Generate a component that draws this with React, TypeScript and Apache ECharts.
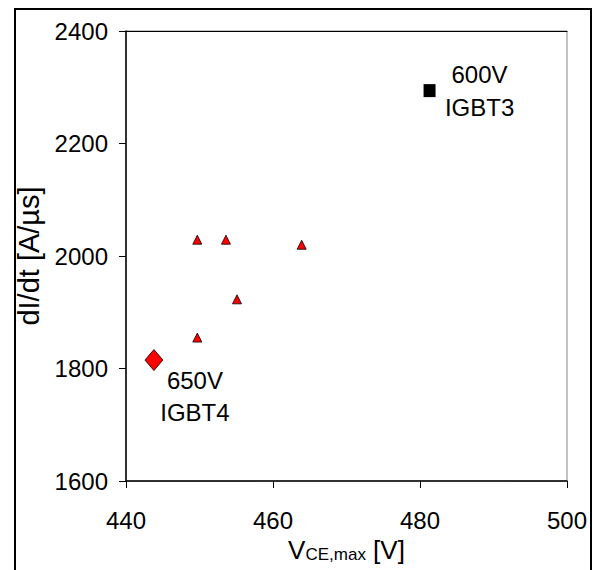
import React, { useEffect, useRef } from "react";
import * as echarts from "echarts";

const xTicks = [440, 460, 480, 500];
const yTicks = [1600, 1800, 2000, 2200, 2400];
const igbt3Points: [number, number][] = [[481.3, 2294]];
const igbt4Points: [number, number][] = [[443.8, 1815]];
const trianglePoints: [number, number][] = [
  [449.7, 2029],
  [453.6, 2029],
  [463.9, 2020],
  [455.1, 1923],
  [449.7, 1855],
];
const igbt3Label = "600V\nIGBT3";
const igbt4Label = "650V\nIGBT4";

const FONT = "'Liberation Sans', Arial, sans-serif";

export default function App() {
  const ref = useRef<HTMLDivElement>(null);
  useEffect(() => {
    if (!ref.current) return;
    const chart = echarts.init(ref.current, null, { renderer: "svg" });
    const axisLabel = {
      color: "#000",
      fontSize: 24,
      fontFamily: FONT,
      formatter: (v: number) => String(v),
    };
    const annotation = {
      show: true,
      position: "inside",
      align: "center",
      verticalAlign: "middle",
      color: "#000",
      textBorderWidth: 0,
      fontSize: 24,
      lineHeight: 32,
      fontFamily: FONT,
    };
    chart.setOption({
      animation: false,
      backgroundColor: "#fff",
      textStyle: { fontFamily: FONT },
      grid: {
        left: 126,
        top: 31,
        width: 441,
        height: 450,
        show: true,
        borderColor: "#888",
        borderWidth: 1,
      },
      xAxis: [
        {
          type: "value",
          min: xTicks[0],
          max: xTicks[xTicks.length - 1],
          interval: 20,
          splitLine: { show: false },
          axisLine: { lineStyle: { color: "#000", width: 1.5 } },
          axisTick: { show: true, length: 7, lineStyle: { color: "#000", width: 1 } },
          axisLabel: { ...axisLabel, margin: 27 },
          name: "{v|V}{s|CE,max}{v| [V]}",
          nameLocation: "middle",
          nameGap: 50,
          nameTextStyle: {
            rich: {
              v: { fontSize: 26, color: "#000", fontFamily: FONT, verticalAlign: "bottom" },
              s: { fontSize: 17, color: "#000", fontFamily: FONT, verticalAlign: "bottom" },
            },
          },
        },
        {
          type: "value",
          position: "top",
          min: xTicks[0],
          max: xTicks[xTicks.length - 1],
          interval: 20,
          splitLine: { show: false },
          axisLine: { show: true, lineStyle: { color: "#000", width: 1.2 } },
          axisTick: { show: false },
          axisLabel: { show: false },
        },
      ],
      yAxis: {
        type: "value",
        min: yTicks[0],
        max: yTicks[yTicks.length - 1],
        interval: 200,
        splitLine: { show: false },
        axisLine: { show: true, lineStyle: { color: "#000", width: 1.5 } },
        axisTick: { show: true, length: 7, lineStyle: { color: "#000", width: 1 } },
        axisLabel: { ...axisLabel, margin: 18 },
        name: "dI/dt [A/µs]",
        nameLocation: "middle",
        nameGap: 69,
        nameTextStyle: { color: "#000", fontSize: 29, fontFamily: FONT },
      },
      graphic: [
        {
          type: "rect",
          shape: { x: 15, y: 9, width: 576, height: 620 },
          style: { fill: "none", stroke: "#000", lineWidth: 2 },
          silent: true,
        },
      ],
      series: [
        {
          type: "scatter",
          data: trianglePoints,
          symbol: "triangle",
          symbolSize: [9, 9],
          itemStyle: { color: "#ff0000", borderColor: "#000", borderWidth: 0.8, opacity: 1 },
        },
        {
          type: "scatter",
          data: igbt4Points,
          symbol: "diamond",
          symbolSize: [18, 21],
          itemStyle: { color: "#ff0000", borderColor: "#000", borderWidth: 0.8, opacity: 1 },
          label: { ...annotation, formatter: igbt4Label, offset: [41, 36] },
        },
        {
          type: "scatter",
          data: igbt3Points,
          symbol: "rect",
          symbolSize: [12, 13],
          itemStyle: { color: "#000", opacity: 1 },
          label: { ...annotation, formatter: igbt3Label, offset: [50, 0], lineHeight: 33 },
        },
      ],
    });
    return () => chart.dispose();
  }, []);
  return (
    <div
      ref={ref}
      style={{ position: "absolute", left: 0, top: 0, width: 593, height: 570 }}
    />
  );
}
